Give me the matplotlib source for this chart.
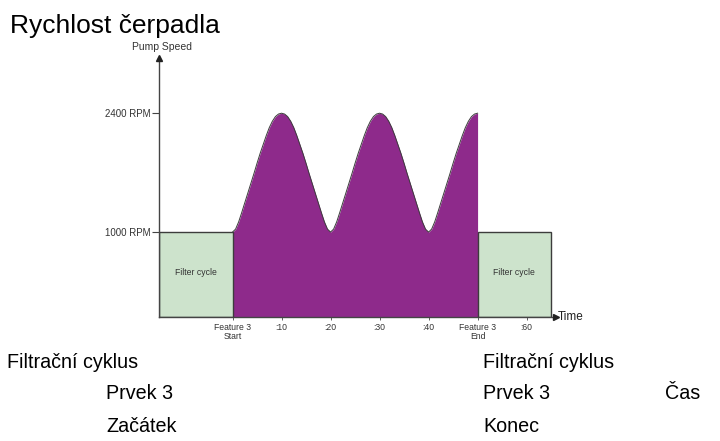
import matplotlib.pyplot as plt

plt.rcParams['font.family'] = ['Liberation Sans', 'DejaVu Sans']

# one half wave of pump speed: minutes after a peak -> RPM
half_offsets = [0, 0.625, 1.25, 1.875, 2.5, 3.125, 3.75, 4.375, 5, 5.625, 6.25, 6.875, 7.5, 8.125, 8.75, 9.375, 10]
half_speeds = [2400, 2390, 2360, 2305, 2230, 2135, 2030, 1925, 1810, 1690, 1575, 1460, 1345, 1230, 1120, 1035, 1000]
# peaks of feature 3 (minutes)
peak_times = [10, 30, 50]

# filter cycles before and after the feature
filter_spans = [(-15, 0), (50, 65)]
filter_speed = 1000

x_ticks = [0, 10, 20, 30, 40, 50, 60]
x_labels = ['Feature 3\nStart', ':10', ':20', ':30', ':40', 'Feature 3\nEnd', ':60']
y_ticks = [1000, 2400]
y_labels = ['1000 RPM', '2400 RPM']

# build the full speed trace: rise into each peak, fall after it (not after the last)
time_pts, speed_pts = [], []
for i, p in enumerate(peak_times):
    for d, s in zip(half_offsets[::-1], half_speeds[::-1]):
        if time_pts and p - d <= time_pts[-1]:
            continue
        time_pts.append(p - d)
        speed_pts.append(s)
    if i < len(peak_times) - 1:
        for d, s in zip(half_offsets[1:], half_speeds[1:]):
            time_pts.append(p + d)
            speed_pts.append(s)

W, H = 720, 441
fig = plt.figure(figsize=(W / 100, H / 100), dpi=100)
ax = fig.add_axes([159 / W, 1 - 317 / H, 397 / W, 259 / H])

ax.fill_between(time_pts, 0, speed_pts, color='#8e2a8b', lw=0, zorder=2)
ax.plot(time_pts, speed_pts, color='#3c3c3c', lw=0.7, zorder=3)

for x0, x1 in filter_spans:
    ax.add_patch(plt.Rectangle((x0, 0), x1 - x0, filter_speed, fc='#cde3cc', ec='#3c3c3c', lw=1, zorder=4))
    ax.text((x0 + x1) / 2, 520, 'Filter cycle', ha='center', va='center', fontsize=6.2, color='#333333', zorder=5)

ax.set_xlim(-15, 66)
ax.set_ylim(0, 3050)
ax.set_xticks(x_ticks)
ax.set_xticklabels(x_labels, fontsize=6.2, linespacing=1.0)
ax.set_yticks(y_ticks)
ax.set_yticklabels(y_labels, fontsize=7)
ax.tick_params(axis='x', length=2, width=0.6, pad=2, colors='#444444')
ax.tick_params(axis='y', length=5, width=0.8, pad=1, colors='#444444')
for lbl in ax.get_xticklabels() + ax.get_yticklabels():
    lbl.set_color('#333333')

for side in ['top', 'right']:
    ax.spines[side].set_visible(False)
for side in ['left', 'bottom']:
    ax.spines[side].set_color('#444444')
    ax.spines[side].set_linewidth(1)
    ax.spines[side].set_zorder(6)

# arrow heads on the axes
ax.plot(1, 0, '>', transform=ax.transAxes, clip_on=False, color='#222222', ms=4, zorder=7)
ax.plot(0, 1, '^', transform=ax.transAxes, clip_on=False, color='#222222', ms=4, zorder=7)

fig.text(162 / W, 1 - 47 / H, 'Pump Speed', ha='center', va='center', fontsize=7.5, color='#333333')
fig.text(558 / W, 1 - 317 / H, 'Time', ha='left', va='center', fontsize=8.5, color='#222222')

# Czech captions
fig.text(10 / W, 1 - 33 / H, 'Rychlost čerpadla', fontsize=19, va='baseline')
fig.text(7 / W, 1 - 368 / H, 'Filtrační cyklus', fontsize=14.2, va='baseline')
fig.text(106 / W, 1 - 399 / H, 'Prvek 3', fontsize=14.2, va='baseline')
fig.text(106 / W, 1 - 432 / H, 'Začátek', fontsize=14.2, va='baseline')
fig.text(483 / W, 1 - 368 / H, 'Filtrační cyklus', fontsize=14.2, va='baseline')
fig.text(483 / W, 1 - 399 / H, 'Prvek 3', fontsize=14.2, va='baseline')
fig.text(483 / W, 1 - 432 / H, 'Konec', fontsize=14.2, va='baseline')
fig.text(665 / W, 1 - 399 / H, 'Čas', fontsize=14.2, va='baseline')

fig.savefig('out.png', dpi=100)
